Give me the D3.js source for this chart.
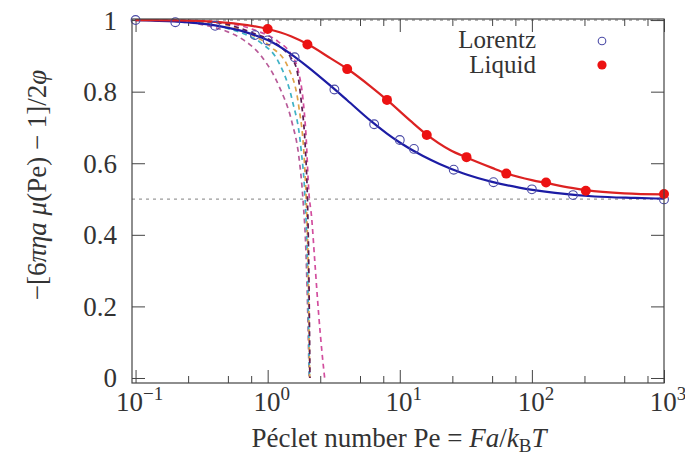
<!DOCTYPE html>
<html>
<head>
<meta charset="utf-8">
<script src="https://cdn.jsdelivr.net/npm/d3@7"></script>
<style>
  body { margin: 0; background: #fff; }
</style>
</head>
<body>
<div id="chart"></div>
<script>
// simulation points
var lorentzPe  = [0.1, 0.2, 0.4, 0.8, 1, 1.6, 3.2, 6.4, 10, 12.8, 25.6, 51.2, 100, 204.8, 1000];
var lorentzVal = [1.0, 0.994, 0.984, 0.958, 0.943, 0.896, 0.806, 0.709, 0.665, 0.640, 0.582, 0.547, 0.527, 0.511, 0.499];
var liquidPe   = [1, 2, 4, 8, 16, 32, 64, 128, 256, 1000];
var liquidVal  = [0.975, 0.932, 0.863, 0.777, 0.679, 0.617, 0.571, 0.546, 0.523, 0.514];

// solid fit curves
var lorentzFitPe  = [0.1, 0.2, 0.4, 0.7, 1, 1.5, 2, 3, 4, 6, 8, 10, 15, 20, 30, 50, 80, 150, 300, 600, 1000];
var lorentzFitVal = [1.0, 0.996, 0.985, 0.965, 0.944, 0.905, 0.870, 0.816, 0.776, 0.719, 0.683, 0.658, 0.620, 0.598, 0.572, 0.548, 0.532, 0.517, 0.507, 0.503, 0.501];
var liquidFitPe   = [0.1, 0.2, 0.4, 0.7, 1, 1.5, 2, 3, 4, 6, 8, 12, 16, 24, 32, 50, 64, 100, 128, 200, 256, 500, 1000];
var liquidFitVal  = [1.0, 0.999, 0.995, 0.986, 0.975, 0.955, 0.933, 0.893, 0.864, 0.815, 0.777, 0.719, 0.680, 0.637, 0.616, 0.587, 0.572, 0.553, 0.545, 0.531, 0.525, 0.516, 0.513];

// dashed expansion curves
var dash1Pe  = [0.1, 0.2, 0.33, 0.5, 0.66, 0.9, 1.22, 1.53, 1.72, 1.85, 1.95, 2.02, 2.06];
var dash1Val = [1.0, 0.996, 0.986, 0.967, 0.944, 0.898, 0.815, 0.713, 0.62, 0.5, 0.35, 0.15, 0];
var dash2Pe  = [0.1, 0.2, 0.3, 0.49, 0.7, 0.9, 1.22, 1.53, 1.79, 1.92, 1.99, 2.04, 2.07];
var dash2Val = [1.0, 0.998, 0.994, 0.977, 0.958, 0.935, 0.88, 0.778, 0.639, 0.5, 0.35, 0.15, 0];
var dash3Pe  = [0.1, 0.2, 0.4, 0.66, 1.05, 1.42, 1.72, 1.9, 1.98, 2.03, 2.06, 2.08];
var dash3Val = [1.0, 0.999, 0.993, 0.968, 0.926, 0.87, 0.759, 0.6, 0.45, 0.3, 0.12, 0];
var dash4Pe  = [0.1, 0.2, 0.4, 0.8, 1.0, 1.3, 1.5, 1.66, 1.79, 1.93, 2.0, 2.05, 2.09];
var dash4Val = [1.0, 0.999, 0.994, 0.962, 0.948, 0.92, 0.895, 0.862, 0.778, 0.639, 0.5, 0.3, 0];
var dash5Pe  = [0.1, 0.2, 0.4, 0.8, 1.2, 1.5, 1.7, 1.85, 1.95, 2.05, 2.15, 2.27, 2.43, 2.58, 2.7];
var dash5Val = [1.0, 0.999, 0.995, 0.972, 0.94, 0.905, 0.86, 0.78, 0.68, 0.52, 0.45, 0.33, 0.18, 0.07, 0];
var dashColors = ["#b85a98", "#3fb2c6", "#e0a248", "#d24e9e", "#5e1a52"];

// ticks
var majorX = [0.1, 1, 10, 100, 1000];
var majorXExp = ["\u22121", "0", "1", "2", "3"];
var minorX = [0.25, 0.5, 0.75, 2.5, 5, 7.5, 25, 50, 75, 250, 500, 750];
var majorY = [0, 0.2, 0.4, 0.6, 0.8, 1];
var yTickLabels = ["0", "0.2", "0.4", "0.6", "0.8", "1"];
var legendNames = ["Lorentz", "Liquid"];

var serif = "'Liberation Serif', 'Times New Roman', Times, serif";

var margin = {top: 19, right: 21, bottom: 73, left: 132},
  width = 685 - margin.left - margin.right,
  height = 456 - margin.top - margin.bottom;

var root = d3.select("#chart")
.append("svg")
  .attr("width", width + margin.left + margin.right)
  .attr("height", height + margin.top + margin.bottom)
  .attr("font-family", serif);
var svg = root.append("g")
  .attr("transform", "translate(" + margin.left + "," + margin.top + ")");

var x = d3.scaleLog().domain([0.094, 1000]).range([0, width]);
var y = d3.scaleLinear().domain([-0.014, 1.003]).range([height, 0]);

// dotted reference lines
[1, 0.5].forEach(function(v) {
  svg.append("line")
    .attr("x1", 0).attr("x2", width)
    .attr("y1", y(v)).attr("y2", y(v))
    .attr("stroke", "#9a9a9a").attr("stroke-width", 1.2)
    .attr("stroke-dasharray", "3,4");
});

// ticks (inward, mirrored)
function styleAxis(g) {
  g.select(".domain").remove();
  g.selectAll("line").attr("stroke", "#444");
}
svg.append("g").attr("transform", "translate(0," + height + ")")
  .call(d3.axisBottom(x).tickValues(majorX).tickSize(-13).tickFormat("")).call(styleAxis);
svg.append("g").attr("transform", "translate(0," + height + ")")
  .call(d3.axisBottom(x).tickValues(minorX).tickSize(-7).tickFormat("")).call(styleAxis);
svg.append("g")
  .call(d3.axisTop(x).tickValues(majorX).tickSize(-13).tickFormat("")).call(styleAxis);
svg.append("g")
  .call(d3.axisTop(x).tickValues(minorX).tickSize(-7).tickFormat("")).call(styleAxis);
svg.append("g")
  .call(d3.axisLeft(y).tickValues(majorY).tickSize(-13).tickFormat("")).call(styleAxis);
svg.append("g").attr("transform", "translate(" + width + ",0)")
  .call(d3.axisRight(y).tickValues(majorY).tickSize(-13).tickFormat("")).call(styleAxis);

// tick labels
svg.selectAll(".ylab")
  .data(majorY)
  .enter().append("text")
  .attr("x", -15)
  .attr("y", function(d) { return y(d); })
  .attr("dy", "0.35em")
  .attr("text-anchor", "end")
  .attr("font-family", serif)
  .attr("fill", "#333")
  .style("font-size", "27px")
  .text(function(d, i) { return yTickLabels[i]; });

var xl = svg.selectAll(".xlab")
  .data(majorX)
  .enter().append("text")
  .attr("x", function(d) { return x(d) + 4; })
  .attr("y", height + 28)
  .attr("text-anchor", "middle")
  .attr("font-family", serif)
  .attr("fill", "#333")
  .style("font-size", "27px");
xl.append("tspan").text("10");
xl.append("tspan").attr("dy", -11).style("font-size", "19px")
  .text(function(d, i) { return majorXExp[i]; });

// dashed curves
var line = d3.line()
  .x(function(d) { return x(d[0]); })
  .y(function(d) { return y(d[1]); })
  .curve(d3.curveMonotoneX);

var dashed = [d3.zip(dash1Pe, dash1Val), d3.zip(dash2Pe, dash2Val), d3.zip(dash3Pe, dash3Val),
              d3.zip(dash5Pe, dash5Val), d3.zip(dash4Pe, dash4Val)];
dashed.forEach(function(c, i) {
  svg.append("path")
    .datum(c)
    .attr("d", line)
    .attr("fill", "none")
    .attr("stroke", dashColors[i])
    .attr("stroke-width", 1.7)
    .attr("stroke-dasharray", "5,4");
});

// fit curves
svg.append("path")
  .datum(d3.zip(lorentzFitPe, lorentzFitVal))
  .attr("d", line).attr("fill", "none")
  .attr("stroke", "#1c1ca4").attr("stroke-width", 2.2);
svg.append("path")
  .datum(d3.zip(liquidFitPe, liquidFitVal))
  .attr("d", line).attr("fill", "none")
  .attr("stroke", "#dc2222").attr("stroke-width", 2.2);

// points
svg.selectAll(".lor")
  .data(d3.zip(lorentzPe, lorentzVal))
  .enter().append("circle")
  .attr("cx", function(d) { return x(d[0]); })
  .attr("cy", function(d) { return y(d[1]); })
  .attr("r", 4.4)
  .attr("fill", "none")
  .attr("stroke", "#4a4aa6").attr("stroke-width", 1.1);
svg.selectAll(".liq")
  .data(d3.zip(liquidPe, liquidVal))
  .enter().append("circle")
  .attr("cx", function(d) { return x(d[0]); })
  .attr("cy", function(d) { return y(d[1]); })
  .attr("r", 5)
  .attr("fill", "#ec1212");

// frame
svg.append("rect")
  .attr("width", width).attr("height", height)
  .attr("fill", "none").attr("stroke", "#444").attr("stroke-width", 1.2);

// legend
svg.selectAll(".legtext")
  .data(legendNames)
  .enter().append("text")
  .attr("x", 536 - margin.left)
  .attr("y", function(d, i) { return 48 - margin.top + i * 25; })
  .attr("text-anchor", "end")
  .attr("font-family", serif)
  .attr("fill", "#333")
  .style("font-size", "25px")
  .text(function(d) { return d; });
svg.append("circle").attr("cx", 602 - margin.left).attr("cy", 41 - margin.top).attr("r", 3.8)
  .attr("fill", "none").attr("stroke", "#4a4aa6").attr("stroke-width", 1.1);
svg.append("circle").attr("cx", 602 - margin.left).attr("cy", 65 - margin.top).attr("r", 4.6)
  .attr("fill", "#ec1212");

// axis labels
var xlab = root.append("text")
  .attr("x", 399).attr("y", 447)
  .attr("text-anchor", "middle")
  .attr("font-family", serif)
  .attr("fill", "#333")
  .style("font-size", "27px");
xlab.append("tspan").text("P\u00e9clet number Pe = ");
xlab.append("tspan").style("font-style", "italic").text("Fa");
xlab.append("tspan").text("/");
xlab.append("tspan").style("font-style", "italic").text("k");
xlab.append("tspan").attr("dy", 5).style("font-size", "19px").text("B");
xlab.append("tspan").attr("dy", -5).style("font-style", "italic").text("T");

var ylab = root.append("text")
  .attr("transform", "translate(46,185) rotate(-90)")
  .attr("text-anchor", "middle")
  .attr("font-family", serif)
  .attr("fill", "#333")
  .style("font-size", "27px");
ylab.append("tspan").text("\u2212[6");
ylab.append("tspan").style("font-style", "italic").text("\u03c0\u03b7a \u03bc");
ylab.append("tspan").text("(Pe) \u2212 1]/2");
ylab.append("tspan").style("font-style", "italic").text("\u03c6");
</script>
</body>
</html>
